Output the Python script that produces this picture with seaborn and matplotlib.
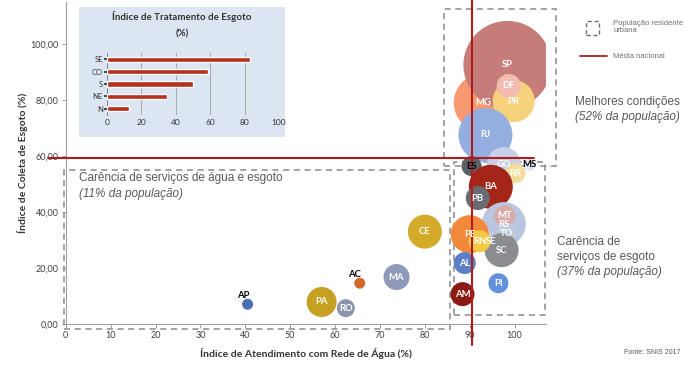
import matplotlib
matplotlib.use("Agg")
import matplotlib.pyplot as plt
import seaborn as sns
import pandas as pd
from matplotlib.patches import Rectangle

# ---------------- data ----------------
estados = ["MG", "SP", "PR", "DF", "RJ", "ES", "GO", "MS", "RR", "BA", "PB", "RS", "MT", "TO",
           "SE", "SC", "PE", "RN", "AL", "PI", "AM", "CE", "MA", "AC", "AP", "PA", "RO"]
atendimento_agua = [92.9, 98.4, 99.8, 98.7, 93.5, 90.4, 97.6, 103.3, 100.2, 94.7, 91.8, 97.6, 97.8, 98.2,
                    94.7, 97.1, 90.0, 92.2, 88.9, 96.4, 88.4, 80.0, 73.7, 65.5, 40.5, 57.0, 62.4]
coleta_esgoto = [79.0, 92.5, 79.6, 85.0, 67.5, 56.4, 57.1, 56.8, 53.9, 49.0, 45.0, 35.7, 38.6, 32.5,
                 29.6, 26.4, 32.1, 29.6, 21.8, 14.6, 10.7, 33.0, 16.8, 14.6, 7.1, 7.9, 5.7]
# relative bubble area
tamanho_bolha = [841, 1936, 441, 144, 729, 100, 289, 36, 100, 484, 144, 484, 110, 100,
                 81, 289, 361, 121, 121, 100, 144, 289, 169, 30, 30, 225, 81]
cores = ["#f79a72", "#c67c79", "#f6d27c", "#f4bcb0", "#95aee0", "#5c6168", "#c6d0e8", "#dfe4ef",
         "#f3dc9c", "#a42618", "#686c72", "#bac6e0", "#d8aaa8", "#c2cadf", "#c8d0e2", "#8b8d91",
         "#f2893a", "#f6c944", "#5b80c8", "#6391dc", "#8a1b12", "#d4aa2a", "#8f99b9", "#d06a2a",
         "#4a6eb4", "#c6a022", "#8b95ad"]
label_cor = {"ES": "black", "MS": "black", "AC": "black", "AP": "black"}
label_off = {"AC": (-1.2, 3.0), "AP": (-1.0, 3.0)}

media_agua = 90.6
media_esgoto = 59.3

regioes = ["SE", "CO", "S", "NE", "N"]
tratamento = [83, 59, 50, 35, 13]

# ---------------- figure ----------------
sns.set_theme(style="white")
plt.rcParams["font.family"] = ["Lato", "DejaVu Sans"]

fig = plt.figure(figsize=(7.0, 3.73), dpi=100)

# inset background (figure level, behind everything)
fig.patches.append(Rectangle((79 / 700, 1 - 137 / 373), 206 / 700, 130 / 373,
                             transform=fig.transFigure, facecolor="#dce6f2", edgecolor="none",
                             zorder=-5))

ax = fig.add_axes([0.094, 0.131, 0.686, 0.864])

df = pd.DataFrame({"estado": estados, "x": atendimento_agua, "y": coleta_esgoto,
                   "tam": tamanho_bolha})
s_scale = (2 * 0.72) ** 2  # px radius^2 -> points^2 (diameter)
sns.scatterplot(data=df, x="x", y="y", hue="estado", palette=dict(zip(estados, cores)),
                size="tam", sizes=(min(tamanho_bolha) * s_scale, max(tamanho_bolha) * s_scale),
                size_norm=(min(tamanho_bolha), max(tamanho_bolha)),
                linewidth=0, alpha=1.0, legend=False, ax=ax, zorder=3)

for e, x, y in zip(estados, atendimento_agua, coleta_esgoto):
    dx, dy = label_off.get(e, (0, 0))
    ax.text(x + dx, y + dy, e, ha="center", va="center", fontsize=6.8, fontweight="bold",
            color=label_cor.get(e, "white"), zorder=5, family=["Lato", "DejaVu Sans"])

ax.set_xlim(0, 107)
ax.set_ylim(0, 115)
ax.set_xticks(range(0, 101, 10))
ax.set_xticklabels([str(v) for v in range(0, 101, 10)], fontsize=6.5, color="#404040")
ax.set_yticks(range(0, 101, 20))
ax.set_yticklabels([f"{v:.2f}".replace(".", ",") for v in range(0, 101, 20)], fontsize=6.5,
                   color="#404040")
ax.tick_params(axis="both", length=3, width=0.6, color="#909090", pad=2, direction="out")
ax.tick_params(axis="both", which="both", bottom=True, left=True)
for sp in ["top", "right"]:
    ax.spines[sp].set_visible(False)
for sp in ["left", "bottom"]:
    ax.spines[sp].set_color("#a0a0a0")
    ax.spines[sp].set_linewidth(0.8)
ax.set_xlabel("Índice de Atendimento com Rede de Água (%)", fontsize=7.5, fontweight="bold",
              color="#333333", labelpad=6)
ax.set_ylabel("Índice de Coleta de Esgoto (%)", fontsize=7.5, fontweight="bold",
              color="#333333", labelpad=2)
ax.patch.set_alpha(0)

# national averages
ax.plot([-4, 104.4], [media_esgoto, media_esgoto], color="#b01c1c", lw=1.5, clip_on=False, zorder=4)
ax.plot([media_agua, media_agua], [-7.5, 115.5], color="#b01c1c", lw=1.5, clip_on=False, zorder=4)

# dashed groups
box_kw = dict(fill=False, edgecolor="#8a8a8a", linestyle=(0, (4, 3)), lw=1.1, clip_on=False, zorder=2)
ax.add_patch(Rectangle((84.2, 56.4), 25.0, 56.1, **box_kw))
ax.add_patch(Rectangle((86.6, 3.2), 20.1, 54.7, **box_kw))
ax.add_patch(Rectangle((-0.5, -1.8), 86.2, 56.8, **box_kw))

# annotations
gray = "#595959"
ax.text(3.0, 52.0, "Carência de serviços de água e esgoto", fontsize=8.5, color=gray,
        family=["Liberation Sans"], va="center")
ax.text(3.0, 46.5, "(11% da população)", fontsize=8.5, color=gray, style="italic",
        family=["Liberation Sans"], va="center")
fig.text(575 / 700, 1 - 102 / 373, "Melhores condições", fontsize=8.5, color=gray,
         family=["Liberation Sans"], va="center")
fig.text(575 / 700, 1 - 117 / 373, "(52% da população)", fontsize=8.5, color=gray,
         style="italic", family=["Liberation Sans"], va="center")
fig.text(557 / 700, 1 - 242 / 373, "Carência de", fontsize=8.5, color=gray,
         family=["Liberation Sans"], va="center")
fig.text(557 / 700, 1 - 257 / 373, "serviços de esgoto", fontsize=8.5, color=gray,
         family=["Liberation Sans"], va="center")
fig.text(557 / 700, 1 - 272 / 373, "(37% da população)", fontsize=8.5, color=gray,
         style="italic", family=["Liberation Sans"], va="center")

# legend
fig.patches.append(Rectangle((586 / 700, 1 - 35 / 373), 13 / 700, 14 / 373, transform=fig.transFigure,
                             fill=False, edgecolor="#707070", linestyle=(0, (3, 2)), lw=1.0))
fig.text(613 / 700, 1 - 27 / 373, "População residente\nurbana", fontsize=5.5, color="#707070",
         va="center", family=["Liberation Sans"], linespacing=1.1)
fig.lines.append(plt.Line2D([580 / 700, 607 / 700], [1 - 56 / 373, 1 - 56 / 373],
                            transform=fig.transFigure, color="#b01c1c", lw=1.3))
fig.text(613 / 700, 1 - 56 / 373, "Média nacional", fontsize=5.5, color="#707070",
         va="center", family=["Liberation Sans"])
fig.text(652 / 700, 1 - 353 / 373, "Fonte: SNIS 2017", fontsize=5, color="#555555",
         ha="center", va="center", family=["Liberation Sans"])

# inset
fig.text(182 / 700, 1 - 17 / 373, "Índice de Tratamento de Esgoto", fontsize=7,
         fontweight="bold", color="#333333", ha="center", va="center")
fig.text(182 / 700, 1 - 34 / 373, "(%)", fontsize=7, fontweight="bold", color="#333333",
         ha="center", va="center")
ia = fig.add_axes([107 / 700, 1 - 115 / 373, 172 / 700, 62 / 373])
ia.set_facecolor("#dce6f2")
dfi = pd.DataFrame({"regiao": regioes, "tratamento": tratamento})
sns.barplot(data=dfi, y="regiao", x="tratamento", orient="h", color="#b5301f", saturation=1,
            width=0.42, ax=ia, zorder=3)
ia.set_xlim(0, 100)
ia.set_xticks(range(0, 101, 20))
ia.set_xticklabels([str(v) for v in range(0, 101, 20)], fontsize=6, color="#333333")
ia.tick_params(axis="y", labelsize=5.5, length=2, pad=1, colors="#333333", left=True)
ia.tick_params(axis="x", length=0, pad=3)
ia.set_xlabel("")
ia.set_ylabel("")
ia.grid(axis="x", color="#a0a0a0", lw=0.6)
ia.set_axisbelow(True)
for sp in ["top", "right", "bottom"]:
    ia.spines[sp].set_visible(False)
ia.spines["left"].set_color("#808080")
ia.spines["left"].set_linewidth(0.6)

fig.savefig("out.png", dpi=100)
